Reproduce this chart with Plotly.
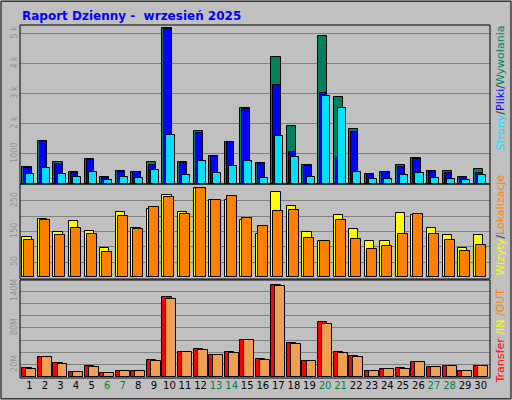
import plotly.graph_objects as go
from plotly.subplots import make_subplots

days = list(range(1, 31))
weekend = [6, 7, 13, 14, 20, 21, 27, 28]

hits = [554, 1437, 724, 385, 826, 249, 419, 385, 724, 5170, 724, 1776, 928, 1403, 2523,
        690, 4219, 1912, 622, 4932, 2896, 1844, 317, 385, 622, 860, 419, 419, 249, 486]
files = [520, 1437, 656, 350, 792, 215, 385, 385, 622, 5136, 690, 1708, 928, 1403, 2489,
         690, 3303, 1063, 588, 3032, 860, 1742, 317, 385, 554, 826, 385, 350, 249, 350]
pages = [317, 520, 317, 249, 385, 147, 249, 215, 452, 1640, 283, 758, 350, 588, 758,
         215, 1606, 894, 249, 2930, 2523, 385, 181, 181, 283, 350, 215, 181, 147, 283]

visits = [133, 190, 147, 183, 153, 97, 213, 163, 223, 270, 213, 293, 253, 253, 187,
          143, 280, 233, 150, 120, 203, 157, 120, 120, 210, 203, 160, 137, 97, 137]
sites = [123, 187, 137, 163, 143, 83, 200, 157, 230, 263, 207, 293, 253, 267, 193,
         167, 216, 220, 130, 120, 187, 127, 93, 103, 143, 207, 143, 123, 87, 107]

transfer = [13.9, 32, 22, 7.2, 17, 5.5, 8.9, 8.9, 27, 130.5, 40.5, 45.5, 35.5, 40.5, 60.5,
            29, 150.5, 55.5, 25.5, 89, 40.5, 34, 8.9, 12.2, 13.9, 24, 15.5, 17, 8.9, 17]
traffic_out = [12.2, 32, 20.5, 7.2, 15.5, 5.5, 8.9, 8.9, 25.5, 127, 40.5, 44, 35.5, 39, 60.5,
               27, 149, 54, 25.5, 85.5, 39, 32, 8.9, 12.2, 12.2, 24, 15.5, 17, 8.9, 17]

GREY = "#C0C0C0"
fig = make_subplots(rows=3, cols=1, shared_xaxes=True)


def bars(y, color, offset, width, row):
    fig.add_trace(go.Bar(x=days, y=y, marker=dict(color=color, line=dict(color="black", width=1)),
                         offset=offset, width=width, showlegend=False), row=row, col=1)


bars(hits, "#00805C", -0.45, 0.6, 1)
bars(files, "#0000FF", -0.32, 0.47, 1)
bars(pages, "#00E0FF", -0.19, 0.52, 1)
bars(visits, "#FFFF00", -0.45, 0.6, 2)
bars(sites, "#FF8000", -0.32, 0.64, 2)
bars(transfer, "#FF0000", -0.45, 0.6, 3)
bars(traffic_out, "#F0A050", -0.19, 0.64, 3)

ticktext = [f"<span style='color:#008040'>{d}</span>" if d in weekend else str(d) for d in days]
xcommon = dict(range=[0.4, 30.6], showgrid=False, zeroline=False, ticks="", showline=False)
fig.update_xaxes(**xcommon, showticklabels=False)
fig.update_xaxes(tickvals=days, ticktext=ticktext, showticklabels=True,
                 tickfont=dict(family="DejaVu Sans", size=10, color="black"), row=3, col=1)

ycommon = dict(showgrid=True, gridcolor="#808080", gridwidth=1, zeroline=False, tickangle=-90,
               tickfont=dict(family="DejaVu Sans", size=8, color="#909090"), ticks="")
fig.update_yaxes(**ycommon, range=[0, 5283], tickvals=[1000, 2000, 3000, 4000, 5000],
                 ticktext=["1000", "2 k", "3 k", "4 k", "5 k"], row=1, col=1)
fig.update_yaxes(**ycommon, range=[-5, 305], tickvals=[50, 100, 150, 200, 250],
                 ticktext=["50", "", "150", "", "250"], row=2, col=1)
fig.update_yaxes(**ycommon, range=[-2, 158], tickvals=[20, 40, 60, 80, 100, 120, 140],
                 ticktext=["20M", "", "", "80M", "", "", "140M"], row=3, col=1)

xd = [20 / 512, 490 / 512]
fig.update_layout(
    xaxis=dict(domain=xd), xaxis2=dict(domain=xd), xaxis3=dict(domain=xd),
    yaxis=dict(domain=[0.54, 0.9375]), yaxis2=dict(domain=[0.3025, 0.54]),
    yaxis3=dict(domain=[0.055, 0.30]),
    width=512, height=400, margin=dict(l=0, r=0, t=0, b=0),
    paper_bgcolor=GREY, plot_bgcolor=GREY, barmode="overlay", bargap=0,
    font=dict(family="DejaVu Sans"),
)

for y0, y1 in [(0.54, 0.9375), (0.3025, 0.54), (0.055, 0.30)]:
    fig.add_shape(type="rect", xref="paper", yref="paper", x0=xd[0], x1=xd[1], y0=y0, y1=y1,
                  line=dict(color="black", width=1))
fig.add_shape(type="rect", xref="paper", yref="paper", x0=0.002, x1=0.998, y0=0.003, y1=0.997,
              line=dict(color="black", width=1))

fig.add_annotation(text="<b>Raport Dzienny -  wrzesień 2025</b>", xref="paper", yref="paper",
                   x=20 / 512, y=1 - 16 / 400, xanchor="left", yanchor="middle", showarrow=False,
                   font=dict(color="#0000FF", size=12))

legends = [
    ("<span style='color:#00E0FF'>Strony</span>/<span style='color:#0000FF'>Pliki</span>/"
     "<span style='color:#00805C'>Wywołania</span>", 1 - 24 / 400, "top"),
    ("<span style='color:#FFFF00'>Wizyty</span>/<span style='color:#FF8000'>Lokalizacje</span>",
     1 - 278 / 400, "bottom"),
    ("<span style='color:#FF0000'>Transfer</span><span style='color:#FFFF00'> /IN</span>"
     "<span style='color:#FF8000'> /OUT</span>", 1 - 386 / 400, "bottom"),
]
for txt, y, ya in legends:
    fig.add_annotation(text=txt, xref="paper", yref="paper", x=500 / 512, y=y, textangle=-90,
                       xanchor="center", yanchor=ya, showarrow=False,
                       font=dict(size=11))

# drop the default page margin so the 512x400 figure fills the window
fig.write_html("out.html", config={"displayModeBar": False},
               post_script="document.body.style.margin='0';")
